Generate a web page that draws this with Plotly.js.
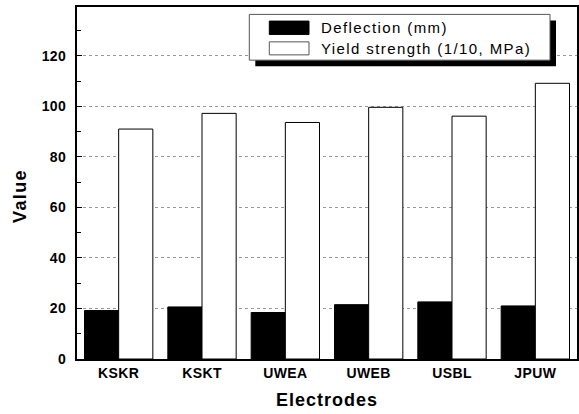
<!DOCTYPE html>
<html>
<head>
<meta charset="utf-8">
<script src="https://cdn.plot.ly/plotly-3.0.1.min.js"></script>
<style>
  html, body { margin: 0; padding: 0; background: #fff; }
  #chart { width: 579px; height: 414px; }
  .annotation-text { letter-spacing: 1.4px; }
  .xtitle, .ytitle { letter-spacing: 1px; }
  .xtick text, .ytick text { letter-spacing: 0.4px; }
</style>
</head>
<body>
<div id="chart"></div>
<script>
// Data
var electrodes = ["KSKR", "KSKT", "UWEA", "UWEB", "USBL", "JPUW"];
var deflection = [19.2, 20.6, 18.4, 21.5, 22.6, 21.0];
var yieldStrength = [91.0, 97.2, 93.6, 99.6, 96.1, 109.1];
var seriesNames = ["Deflection (mm)", "Yield strength (1/10, MPa)"];
var yTicks = [0, 20, 40, 60, 80, 100, 120];

var FONT = "Liberation Sans, Arial, sans-serif";

var traces = [
  {
    type: "bar", name: seriesNames[0], x: electrodes, y: deflection,
    marker: { color: "#000000", line: { color: "#000000", width: 1 } },
    showlegend: false, hoverinfo: "x+y"
  },
  {
    type: "bar", name: seriesNames[1], x: electrodes, y: yieldStrength,
    marker: { color: "#ffffff", line: { color: "#000000", width: 1 } },
    showlegend: false, hoverinfo: "x+y"
  }
];

// Manual legend (box with drop shadow)
var legBox = { x0: 0.3446, x1: 0.946, y0: 0.849, y1: 0.979 };
var shadowDx = 0.012, shadowDy = 0.017;
var shapes = [
  { type: "rect", xref: "paper", yref: "paper", layer: "above",
    x0: legBox.x0 + shadowDx, x1: legBox.x1 + shadowDx,
    y0: legBox.y0 - shadowDy, y1: legBox.y1 - shadowDy,
    fillcolor: "#000", line: { width: 0 } },
  { type: "rect", xref: "paper", yref: "paper", layer: "above",
    x0: legBox.x0, x1: legBox.x1, y0: legBox.y0, y1: legBox.y1,
    fillcolor: "#fff", line: { color: "#555", width: 1 } },
  { type: "rect", xref: "paper", yref: "paper", layer: "above",
    x0: 0.3846, x1: 0.464, y0: 0.922, y1: 0.960,
    fillcolor: "#000", line: { color: "#000", width: 1 } },
  { type: "rect", xref: "paper", yref: "paper", layer: "above",
    x0: 0.3846, x1: 0.464, y0: 0.864, y1: 0.901,
    fillcolor: "#fff", line: { color: "#555", width: 1 } }
];

var annotations = [
  { xref: "paper", yref: "paper", x: 0.484, y: 0.9418, xanchor: "left", yanchor: "middle",
    text: seriesNames[0], showarrow: false, font: { family: FONT, size: 15, color: "#000" } },
  { xref: "paper", yref: "paper", x: 0.484, y: 0.8827, xanchor: "left", yanchor: "middle",
    text: seriesNames[1], showarrow: false, font: { family: FONT, size: 15, color: "#000" } },
  { xref: "paper", yref: "paper", x: -0.114, y: 0.463, xanchor: "center", yanchor: "middle",
    textangle: -90, text: "Value", showarrow: false,
    font: { family: FONT, size: 18, color: "#000", weight: "bold" } }
];

var layout = {
  width: 579, height: 414,
  margin: { l: 77, r: 2, t: 7, b: 55, pad: 0 },
  paper_bgcolor: "#fff", plot_bgcolor: "#fff",
  barmode: "group", bargap: 0.18, bargroupgap: 0,
  font: { family: FONT, color: "#000" },
  xaxis: {
    range: [-0.5, 5.5], showline: true, linecolor: "#000", linewidth: 2, mirror: true,
    ticks: "", showgrid: false, zeroline: false,
    tickfont: { family: FONT, size: 14, color: "#000", weight: "bold" },
    ticklabelstandoff: 0,
    title: { text: "Electrodes", standoff: 14,
      font: { family: FONT, size: 18, color: "#000", weight: "bold" } }
  },
  yaxis: {
    range: [0, 139.3], showline: true, linecolor: "#000", linewidth: 2, mirror: true,
    tickvals: yTicks, ticktext: yTicks.map(String),
    ticks: "inside", ticklen: 5, tickwidth: 1, tickcolor: "#000",
    minor: { dtick: 20, tick0: 10, ticks: "inside", ticklen: 4, tickwidth: 1, tickcolor: "#000", showgrid: false },
    showgrid: true, gridcolor: "#999", griddash: "dot", gridwidth: 1,
    zeroline: false,
    tickfont: { family: FONT, size: 14, color: "#000", weight: "bold" },
    ticklabelstandoff: 6
  },
  shapes: shapes,
  annotations: annotations,
  showlegend: false
};

Plotly.newPlot("chart", traces, layout, { displayModeBar: false, staticPlot: true });
</script>
</body>
</html>
